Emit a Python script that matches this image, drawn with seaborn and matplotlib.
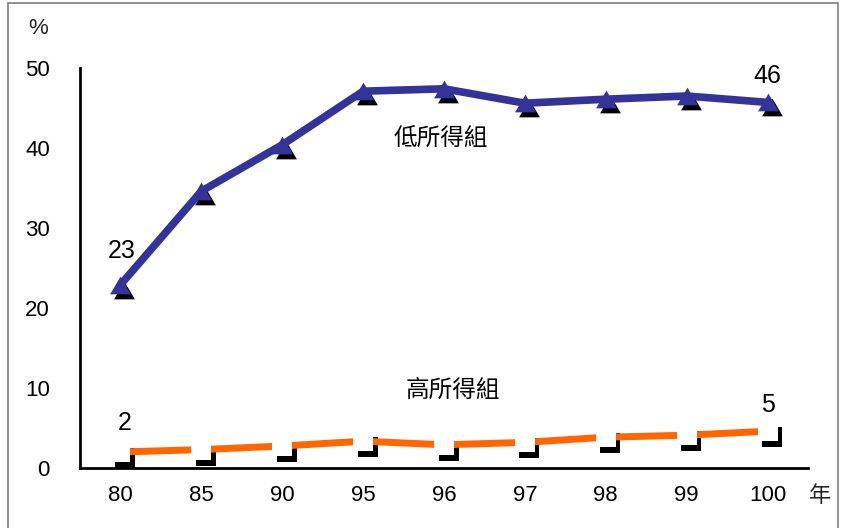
import numpy as np
import pandas as pd
import matplotlib
matplotlib.use("Agg")
import matplotlib.pyplot as plt
import seaborn as sns
from matplotlib.transforms import offset_copy
from matplotlib.path import Path
from matplotlib.patches import Rectangle

# ---- data ----
years = ["80", "85", "90", "95", "96", "97", "98", "99", "100"]
low_income = [22.9, 34.6, 40.4, 47.1, 47.4, 45.6, 46.1, 46.5, 45.7]
high_income = [2.0, 2.3, 2.75, 3.35, 2.9, 3.2, 3.85, 4.1, 4.6]
series_names = ["低所得組", "高所得組"]
y_ticks = [0, 10, 20, 30, 40, 50]
y_unit = "%"
x_unit = "年"

sns.set_theme(style="white")
plt.rcParams["font.family"] = ["Liberation Sans", "Noto Sans CJK TC", "DejaVu Sans"]

df = pd.DataFrame({"pos": np.arange(len(years)), "year": years,
                   "low": low_income, "high": high_income})

W, H = 841, 528
fig = plt.figure(figsize=(W / 100, H / 100), dpi=100)
ax = fig.add_axes([80 / W, 60 / H, 728 / W, 400 / H])

BLUE = "#333399"
ORANGE = "#FF6600"

tri = Path([(0, 0.85), (-1, -0.85), (1, -0.85), (0, 0.85)],
           [Path.MOVETO, Path.LINETO, Path.LINETO, Path.CLOSEPOLY])

shadow_tri = offset_copy(ax.transData, fig=fig, x=4, y=-5, units="dots")
shadow_sq = offset_copy(ax.transData, fig=fig, x=4.5, y=-6, units="dots")

# --- low income series ---
sns.lineplot(data=df, x="pos", y="low", ax=ax, color="black", linewidth=0,
             marker=tri, markersize=15, markeredgewidth=0, zorder=2)
ax.lines[-1].set_transform(shadow_tri)
sns.lineplot(data=df, x="pos", y="low", ax=ax, color=BLUE, linewidth=5.5, zorder=3)
sns.lineplot(data=df, x="pos", y="low", ax=ax, color=BLUE, linewidth=0,
             marker=tri, markersize=15, markeredgewidth=0, zorder=4)

# --- high income series ---
sns.lineplot(data=df, x="pos", y="high", ax=ax, color="black", linewidth=0,
             marker="s", markersize=13.7, markeredgewidth=0, zorder=2)
ax.lines[-1].set_transform(shadow_sq)
sns.lineplot(data=df, x="pos", y="high", ax=ax, color=ORANGE, linewidth=5, zorder=3)
sns.lineplot(data=df, x="pos", y="high", ax=ax, color="white", linewidth=0,
             marker="s", markersize=13.7, markeredgewidth=0, zorder=4)

# ---- axes ----
ax.set_xlim(-0.5, len(years) - 0.5)
ax.set_ylim(0, 50)
ax.set_xlabel("")
ax.set_ylabel("")
ax.set_xticks(df["pos"])
ax.set_xticklabels(years)
ax.set_xticks(np.arange(-0.5, len(years), 1.0), minor=True)
ax.set_yticks(y_ticks)
ax.set_yticklabels([str(t) for t in y_ticks])
ax.tick_params(axis="x", which="major", length=0, pad=12.5, labelsize=16, labelcolor="black")
ax.tick_params(axis="x", which="minor", direction="in", length=5, width=2, color="black")
ax.tick_params(axis="y", which="major", direction="in", length=5, width=2, color="black",
               pad=21.6, labelsize=16, labelcolor="black")
for s in ["top", "right"]:
    ax.spines[s].set_visible(False)
for s in ["left", "bottom"]:
    ax.spines[s].set_color("black")
    ax.spines[s].set_linewidth(2)
ax.set_facecolor("white")
ax.grid(False)

# ---- data labels ----
def lab(i, vals, dy, dx=0):
    ax.annotate(f"{vals[i]:.0f}", (i, vals[i]), xytext=(dx, dy), textcoords="offset pixels",
                ha="center", va="center_baseline", fontsize=18, color="black", zorder=5)

lab(0, low_income, 36, 1)
lab(len(years) - 1, low_income, 29, 0)
lab(0, high_income, 32, 4)
lab(len(years) - 1, high_income, 29, 0)

ax.text(3.96, 41.1, series_names[0], ha="center", va="center", fontsize=17, color="black")
ax.text(4.11, 9.6, series_names[1], ha="center", va="center", fontsize=17, color="black")

fig.text(38 / W, 1 - 29 / H, y_unit, ha="center", va="center", fontsize=16)
fig.text(820 / W, 1 - 497 / H, x_unit, ha="center", va="center", fontsize=16)

fig.patches.append(Rectangle((8 / W, -0.05), 830 / W, 1 - 3 / H + 0.05,
                             transform=fig.transFigure, fill=False,
                             edgecolor="#7f7f7f", linewidth=1.2, zorder=0))

fig.savefig("out.png", dpi=100, facecolor="white")
